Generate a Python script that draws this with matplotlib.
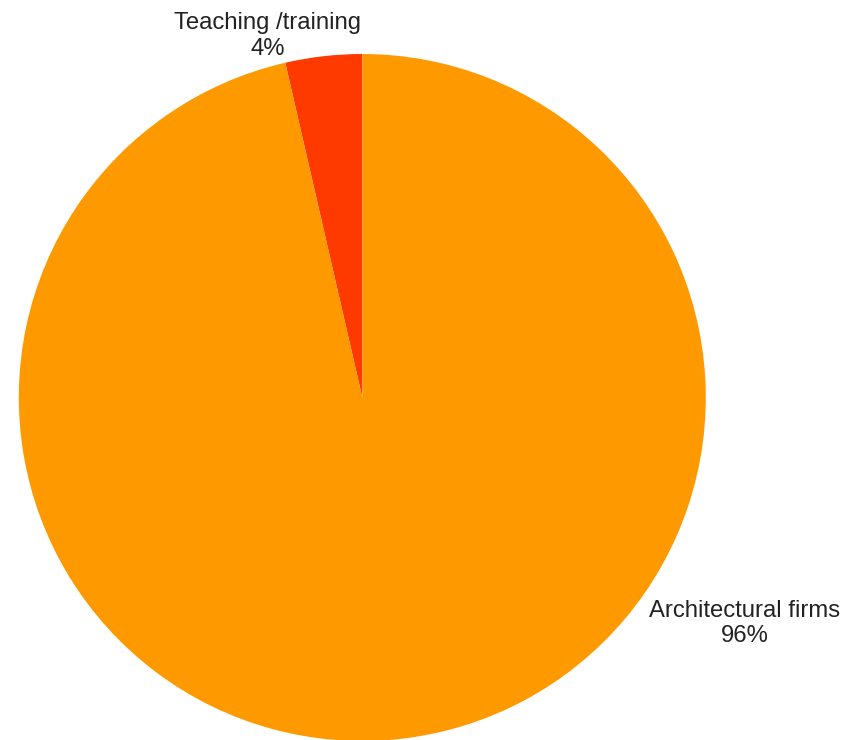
import matplotlib
matplotlib.use("Agg")
import matplotlib.pyplot as plt

labels = ["Teaching /training", "Architectural firms"]
shares = [3.6, 96.4]
colors = ["#FF3A00", "#FF9900"]
# label anchor points, in units of the pie radius
label_pos = [(-0.276, 1.052), (1.113, -0.658)]

plt.rcParams['font.family'] = ['Liberation Sans', 'DejaVu Sans']

W, H = 847, 740
fig = plt.figure(figsize=(W / 100, H / 100), dpi=100)

cx, cy, r = 362.3, 397.5, 343.5
ax = fig.add_axes([(cx - r) / W, (H - cy - r) / H, 2 * r / W, 2 * r / H])
ax.pie(shares, colors=colors, startangle=90, counterclock=True,
       radius=1, wedgeprops=dict(linewidth=0))
ax.set_xlim(-1, 1)
ax.set_ylim(-1, 1)
ax.set_aspect("equal")
ax.axis("off")

for lab, val, (x, y) in zip(labels, shares, label_pos):
    ax.text(x, y, "{}\n{:.0f}%".format(lab, val), ha="center", va="center",
            fontsize=17.2, linespacing=1.22, color="#222222", clip_on=False)

fig.savefig("out.png", dpi=100)
